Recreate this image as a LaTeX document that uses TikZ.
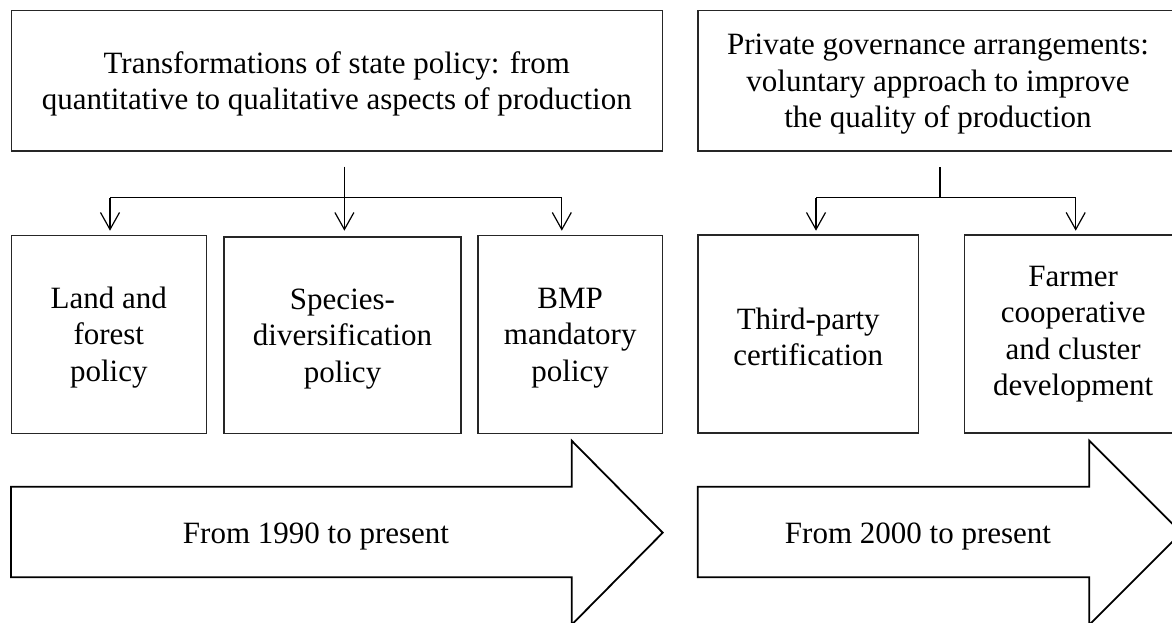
\documentclass[tikz,border=0pt]{standalone}
\usepackage{fontspec}
\setmainfont{Liberation Serif}
\usetikzlibrary{arrows.meta}
% a taller first line lowers the text block a little inside each box
\newcommand\firstline{\rule{0pt}{27.5pt}}
\begin{document}
\begin{tikzpicture}[x=1pt,y=-1pt,
  txt/.style={font=\fontsize{31}{36.5}\selectfont, align=center},
  box/.style={txt, draw=black!85, line width=1.1pt, inner sep=0pt},
  link/.style={line width=1.2pt, draw=black},
  tolink/.style={link, -{Straight Barb[length=17pt,width=19pt,line width=1.2pt]}},
  bigarrow/.style={draw=black, line width=1.8pt, line join=miter, fill=white}]
\useasboundingbox (0,0) rectangle (1172,622);

% headline boxes
\node[box, minimum width=650.5pt, minimum height=140.3pt] (state) at (336.8,80.8)
  {\firstline Transformations of state policy: from\\quantitative to qualitative aspects of production};
\node[box, minimum width=480pt, minimum height=140.3pt] (private) at (938,80.8)
  {\firstline Private governance arrangements:\\voluntary approach to improve\\the quality of production};

% policy boxes
\node[box, minimum width=194.5pt, minimum height=197.6pt] (land) at (108.8,334.5)
  {\firstline Land and\\forest\\policy};
\node[box, minimum width=237pt, minimum height=196.5pt] (species) at (342.5,335.2)
  {\firstline Species-\\diversification\\policy};
\node[box, minimum width=184.5pt, minimum height=197.6pt] (bmp) at (570.2,334.5)
  {\firstline BMP\\mandatory\\policy};
\node[box, minimum width=220.5pt, minimum height=198pt] (third) at (808.2,334)
  {\firstline Third-party\\certification};
\node[box, minimum width=217.5pt, minimum height=198pt] (farmer) at (1073.2,334)
  {Farmer\\cooperative\\and cluster\\development};

% branching connectors, state policy
\coordinate (s0) at (344.4,166.7);
\coordinate (sl) at (110,197.7);
\coordinate (sr) at (561.8,197.7);
\draw[link] (sl) -- (sr);
\draw[tolink] (s0) -- (344.4,230.7) coordinate (sc);
\draw[tolink] (sl) -- (sl |- sc);
\draw[tolink] (sr) -- (sr |- sc);

% branching connectors, private governance
\coordinate (p0) at (940,167);
\coordinate (pl) at (816,197.7);
\coordinate (pr) at (1075.7,197.7);
\draw[link] (p0) -- (p0 |- pl);
\draw[link] (pl) -- (pr);
\draw[tolink] (pl) -- (pl |- sc);
\draw[tolink] (pr) -- (pr |- sc);

% time arrows
\draw[bigarrow] (11,486.7) -- (571.7,486.7) -- (571.7,440.7) -- (662.7,532.7)
  -- (571.7,624.7) -- (571.7,577.3) -- (11,577.3) -- cycle;
\draw[bigarrow] (697.7,486.7) -- (1089.3,486.7) -- (1089.3,440.7) -- (1181.3,532.7)
  -- (1089.3,624.7) -- (1089.3,577.3) -- (697.7,577.3) -- cycle;
\node[txt, anchor=base] (t1990) at (316,543.3) {From 1990 to present};
\node[txt, anchor=base] (t2000) at (918,543.3) {From 2000 to present};
\end{tikzpicture}
\end{document}
